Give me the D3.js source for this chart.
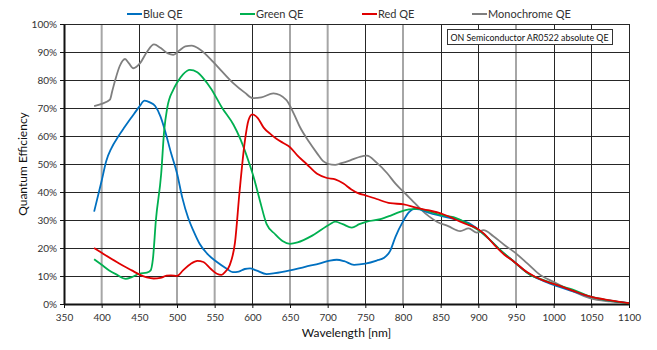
<!DOCTYPE html>
<html>
<head>
<meta charset="utf-8">
<script src="https://cdn.jsdelivr.net/npm/d3@7"></script>
<style>
  body { margin: 0; background: #fff; }
  text { font-family: Lato, "Open Sans", sans-serif; fill: #333; }
</style>
</head>
<body>
<div id="chart"></div>
<script>
// Wavelengths (nm) and QE (%), one pair per series
const blueNm = [390, 400, 406, 413, 422, 430, 440, 450, 457, 464, 471, 478, 484, 492, 500, 507, 515, 522, 530, 540, 553, 565, 574, 582, 590, 597, 605, 619, 630, 650, 670, 690, 703, 712, 722, 735, 750, 765, 775, 783, 790, 800, 808, 815, 822, 835, 850, 870, 890, 900, 915, 930, 947, 965, 985, 1000, 1025, 1050, 1075, 1100];
const blueQE = [33, 44, 51, 55.7, 59.8, 63, 66.8, 70.5, 72.6, 72, 70.7, 67, 62, 54, 46.7, 38, 30.6, 26, 21.5, 18, 15, 12.8, 11.4, 11.6, 12.5, 12.7, 12, 10.7, 11, 12, 13.3, 14.5, 15.5, 15.8, 15.3, 14, 14.4, 15.5, 16.5, 19, 24, 29.5, 32.8, 34, 33.8, 32.5, 31.5, 30.2, 28.5, 26.6, 23, 19, 15.2, 11.2, 8.4, 6.8, 4.6, 2.5, 1.2, 0.3];

const greenNm = [390, 400, 410, 420, 432, 440, 450, 460, 465, 468, 472, 479, 483, 487, 495, 500, 508, 517, 527, 535, 545, 560, 575, 584, 595, 601, 610, 619, 630, 640, 650, 660, 680, 703, 710, 720, 732, 742, 752, 770, 783, 795, 808, 821, 835, 850, 867, 885, 900, 915, 929, 947, 969, 985, 1000, 1027, 1049, 1075, 1100];
const greenQE = [16, 14, 12, 10.5, 9, 9.6, 10.8, 11.2, 12, 16, 30, 46.5, 62, 70, 76.5, 79, 82, 83.6, 82.8, 80.6, 77, 70, 64, 59, 51, 46, 37, 28.5, 25, 22.5, 21.5, 22, 24.5, 28.5, 29.4, 28.5, 27.3, 28.5, 29.4, 30.3, 31.5, 32.8, 33.8, 34, 33, 31.8, 31, 28.8, 26.4, 23, 19.3, 15.2, 10.4, 8.7, 7.2, 5, 2.6, 1.2, 0.2];

const redNm = [390, 400, 420, 440, 451, 460, 469, 478, 486, 492, 500, 508, 518, 527, 535, 545, 553, 559, 564, 570, 577, 583, 590, 595, 600, 607, 615, 625, 632, 641, 650, 660, 672, 686, 699, 710, 721, 731, 741, 750, 765, 783, 801, 816, 833, 850, 863, 876, 886, 896, 907, 920, 935, 947, 965, 985, 1000, 1025, 1049, 1075, 1100];
const redQE = [20, 18.3, 15, 12, 10.4, 9.5, 9.1, 9.3, 10.1, 10.2, 10, 12, 14.3, 15.4, 15, 12.5, 10.8, 10.4, 11.5, 13.9, 22, 40, 58, 65.7, 67.7, 66.5, 63, 60.5, 59, 57.5, 56, 53, 50, 46.5, 45, 44.5, 43, 41, 39.5, 38.8, 37.5, 36, 35.6, 34.5, 33.5, 32.4, 31, 29.4, 28.3, 27.3, 25.2, 21.5, 17.5, 15.2, 11.3, 8.5, 7.2, 4.8, 2.6, 1.3, 0.3];

const monoNm = [390, 400, 411, 414, 418, 424, 431, 436, 442, 451, 460, 469.5, 478, 488, 495, 503, 511, 519.5, 530, 548, 560, 575, 590, 601, 612, 628, 645, 655, 663, 675, 686, 694, 701, 710, 717, 730, 742, 752, 765, 779, 790, 801, 812, 823, 835, 845, 860, 876, 887, 898, 907, 920, 935, 947, 965, 982, 1000, 1025, 1049, 1075, 1100];
const monoQE = [70.7, 71.5, 73, 76, 80, 85, 87.5, 86, 84.2, 86, 90, 92.7, 91.5, 89.5, 89, 90.5, 92, 92.3, 91, 86.5, 83, 78.8, 75.5, 73.5, 73.8, 75.2, 72.9, 68, 63.3, 58, 53.8, 51, 50, 49.7, 50.2, 51.3, 52.5, 53, 50.5, 46.7, 43, 40, 37, 34, 31.2, 29.4, 27.8, 26, 27, 25.5, 26.4, 24.2, 21, 18.7, 14.5, 10.4, 7.9, 4.6, 2, 0.9, 0.3];

const series = [
  { name: "Monochrome QE", nm: monoNm, qe: monoQE, color: "#7f7f7f" },
  { name: "Blue QE", nm: blueNm, qe: blueQE, color: "#0070c0" },
  { name: "Green QE", nm: greenNm, qe: greenQE, color: "#00b050" },
  { name: "Red QE", nm: redNm, qe: redQE, color: "#e00000" }
];
const legendOrder = ["Blue QE", "Green QE", "Red QE", "Monochrome QE"];

const xTicks = d3.range(350, 1101, 50);
const yTicks = d3.range(0, 101, 10);
// grid lines that show as soft grey in the reference
const lightGridNm = [400, 500, 550, 650, 700, 800, 950];

const W = 657, H = 350;
const margin = { top: 24, right: 28, bottom: 46, left: 64 };
const width = W - margin.left - margin.right;
const height = H - margin.top - margin.bottom;

const svg = d3.select("#chart").append("svg")
  .attr("width", W)
  .attr("height", H);

const g = svg.append("g")
  .attr("transform", `translate(${margin.left},${margin.top})`);

const x = d3.scaleLinear().domain([350, 1100]).range([0, width]);
const y = d3.scaleLinear().domain([0, 100]).range([height, 0]);

const crisp = v => Math.round(v) + 0.5;

// Vertical grid
g.selectAll(".vgrid")
  .data(xTicks.slice(1))
  .enter().append("line")
  .attr("x1", d => lightGridNm.includes(d) ? x(d) : crisp(x(d)))
  .attr("x2", d => lightGridNm.includes(d) ? x(d) : crisp(x(d)))
  .attr("y1", 0).attr("y2", height)
  .attr("stroke", d => lightGridNm.includes(d) ? "#a6a6a6" : "#262626")
  .attr("stroke-width", d => lightGridNm.includes(d) ? 2 : 1);

// Horizontal grid
g.selectAll(".hgrid")
  .data(yTicks.slice(1))
  .enter().append("line")
  .attr("x1", 0).attr("x2", width)
  .attr("y1", d => crisp(y(d))).attr("y2", d => crisp(y(d)))
  .attr("stroke", "#262626")
  .attr("stroke-width", 1);

// Axes
const xAxis = g.append("g")
  .attr("transform", `translate(0,${height})`)
  .call(d3.axisBottom(x).tickValues(xTicks).tickFormat(d3.format("d"))
    .tickSize(4).tickSizeOuter(0).tickPadding(6));
const yAxis = g.append("g")
  .call(d3.axisLeft(y).tickValues(yTicks).tickFormat(d => d + "%")
    .tickSize(4).tickSizeOuter(0).tickPadding(3));

[xAxis, yAxis].forEach(a => {
  a.select(".domain").attr("stroke", "#111").attr("stroke-width", 2);
  a.selectAll(".tick line").attr("stroke", "#111");
  a.selectAll(".tick text").style("font-size", "10px").style("fill", "#333")
    .style("font-family", "Lato, sans-serif");
});

// Lines
const line = d3.line()
  .x(d => x(d[0]))
  .y(d => y(d[1]))
  .curve(d3.curveMonotoneX);

g.selectAll(".series")
  .data(series)
  .enter().append("path")
  .attr("fill", "none")
  .attr("stroke", d => d.color)
  .attr("stroke-width", 1.8)
  .attr("stroke-linejoin", "round")
  .attr("d", d => line(d.nm.map((n, i) => [n, d.qe[i]])));

// Annotation box
const note = g.append("g").attr("transform", "translate(383.5,5.5)");
note.append("rect")
  .attr("width", 165).attr("height", 15)
  .attr("fill", "#fff").attr("stroke", "#333").attr("stroke-width", 1);
note.append("text")
  .attr("x", 3).attr("y", 11)
  .attr("textLength", 158)
  .attr("lengthAdjust", "spacingAndGlyphs")
  .style("font-size", "10px")
  .style("fill", "#111")
  .text("ON Semiconductor AR0522 absolute QE");

// Legend
const legendX = [127, 240, 362, 472];
const legend = svg.append("g").attr("transform", "translate(0,14)");
legendOrder.forEach((name, i) => {
  const s = series.find(d => d.name === name);
  const item = legend.append("g").attr("transform", `translate(${legendX[i]},0)`);
  item.append("line")
    .attr("x1", 0).attr("x2", 15)
    .attr("stroke", s.color).attr("stroke-width", 2);
  item.append("text")
    .attr("x", 16).attr("y", 4)
    .style("font-size", "11px")
    .text(name);
});

// Axis titles
svg.append("text")
  .attr("x", margin.left + width / 2)
  .attr("y", 337)
  .attr("text-anchor", "middle")
  .style("font-size", "12px")
  .style("fill", "#111")
  .text("Wavelength [nm]");

svg.append("text")
  .attr("transform", `translate(27,${margin.top + height / 2}) rotate(-90)`)
  .attr("text-anchor", "middle")
  .style("font-size", "12px")
  .style("fill", "#111")
  .text("Quantum Efficiency");
</script>
</body>
</html>
